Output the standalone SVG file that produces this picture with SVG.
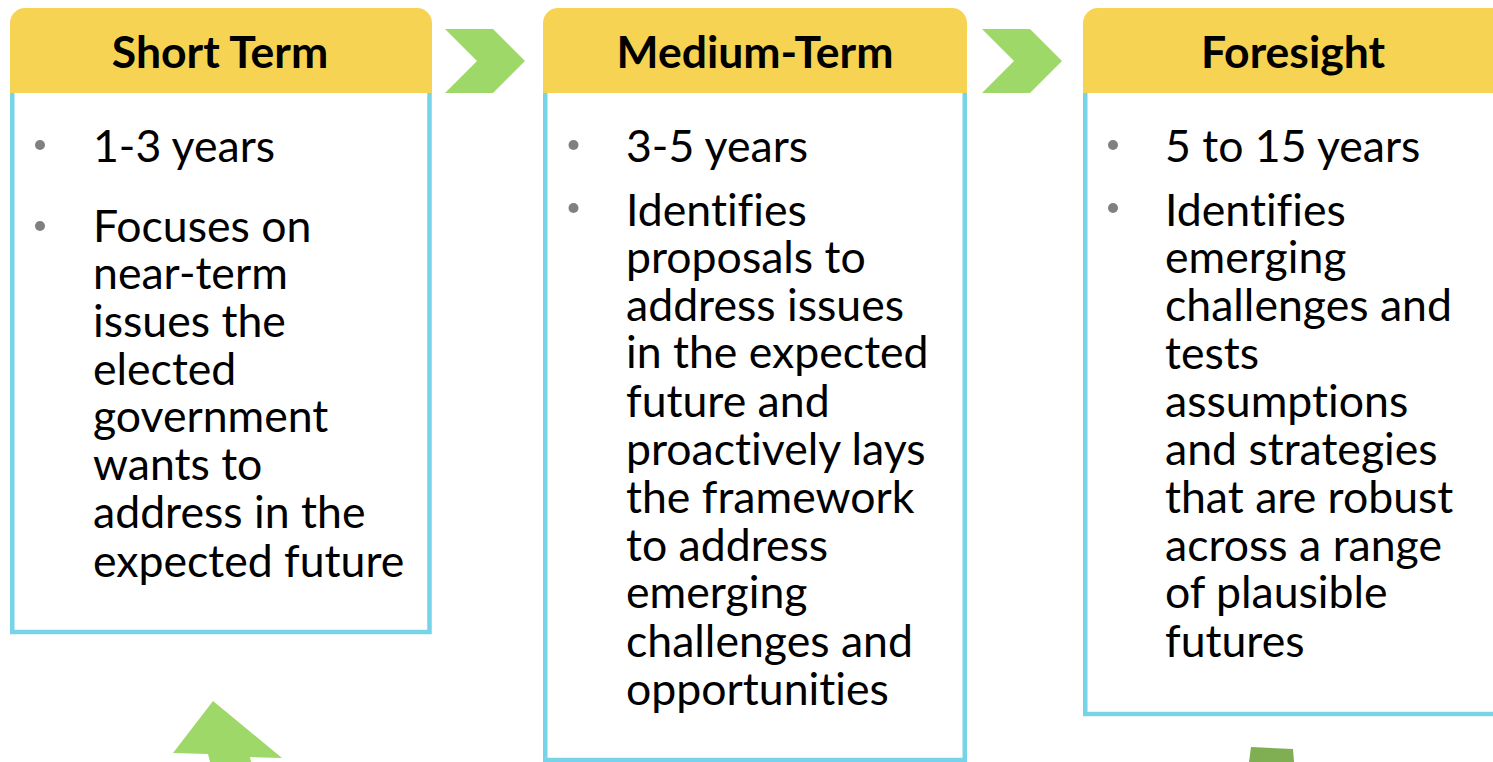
<svg xmlns="http://www.w3.org/2000/svg" width="1493" height="762" viewBox="0 0 1493 762">
<style>
.body{fill:#FFFFFF;stroke:#77D3E7;stroke-width:4.5}
.hdr{fill:#F6D353}
.title{font-family:Lato,"Open Sans","Liberation Sans",sans-serif;font-weight:bold;font-size:44.5px;fill:#000;text-anchor:middle;font-variant-ligatures:none}
.txt{font-family:Lato,"Open Sans","Liberation Sans",sans-serif;font-size:44.6px;fill:#000;font-variant-ligatures:none}
.dot{fill:#808080}
.chev{fill:#9ED869}
</style>
<g id="node-short-term">
<rect class="body" x="12.25" y="88" width="417.25" height="544"/>
<path class="hdr" d="M10,93 V23 A15,15 0 0 1 25,8 H417 A15,15 0 0 1 432,23 V93 Z"/>
<text class="title" x="220" y="68">Short Term</text>
<circle class="dot" cx="40" cy="145" r="5"/>
<text class="txt" x="93" y="162">1-3 years</text>
<circle class="dot" cx="40" cy="226" r="5"/>
<text class="txt" x="93" y="242">Focuses on</text>
<text class="txt" x="93" y="289">near-term</text>
<text class="txt" x="93" y="337">issues the</text>
<text class="txt" x="93" y="385">elected</text>
<text class="txt" x="93" y="432">government</text>
<text class="txt" x="93" y="480">wants to</text>
<text class="txt" x="93" y="528">address in the</text>
<text class="txt" x="93" y="577">expected future</text>
</g>
<g id="node-medium-term">
<rect class="body" x="545.25" y="88" width="419.5" height="672"/>
<path class="hdr" d="M543,93 V23 A15,15 0 0 1 558,8 H952 A15,15 0 0 1 967,23 V93 Z"/>
<text class="title" x="755" y="68">Medium-Term</text>
<circle class="dot" cx="573.5" cy="145" r="5"/>
<text class="txt" x="626" y="162">3-5 years</text>
<circle class="dot" cx="573.5" cy="208" r="5"/>
<text class="txt" x="626" y="226">Identifies</text>
<text class="txt" x="626" y="273">proposals to</text>
<text class="txt" x="626" y="321">address issues</text>
<text class="txt" x="626" y="368">in the expected</text>
<text class="txt" x="626" y="417">future and</text>
<text class="txt" x="626" y="465">proactively lays</text>
<text class="txt" x="626" y="513">the framework</text>
<text class="txt" x="626" y="561">to address</text>
<text class="txt" x="626" y="608">emerging</text>
<text class="txt" x="626" y="657">challenges and</text>
<text class="txt" x="626" y="705">opportunities</text>
</g>
<g id="node-foresight">
<rect class="body" x="1085.25" y="88" width="430" height="626"/>
<path class="hdr" d="M1083,93 V23 A15,15 0 0 1 1098,8 H1510 V93 Z"/>
<text class="title" x="1293" y="68">Foresight</text>
<circle class="dot" cx="1113" cy="145" r="5"/>
<text class="txt" x="1165" y="162">5 to 15 years</text>
<circle class="dot" cx="1113" cy="208" r="5"/>
<text class="txt" x="1165" y="226">Identifies</text>
<text class="txt" x="1165" y="273">emerging</text>
<text class="txt" x="1165" y="321">challenges and</text>
<text class="txt" x="1165" y="369">tests</text>
<text class="txt" x="1165" y="417">assumptions</text>
<text class="txt" x="1165" y="465">and strategies</text>
<text class="txt" x="1165" y="513">that are robust</text>
<text class="txt" x="1165" y="561">across a range</text>
<text class="txt" x="1165" y="608">of plausible</text>
<text class="txt" x="1165" y="657">futures</text>
</g>
<g id="connectors">
<polygon class="chev" points="445,29 493,29 525,61 493,93 445,93 477,61"/>
<polygon class="chev" points="982,29 1030,29 1062,61 1030,93 982,93 1014,61"/>
<polygon class="chev" points="213,701 282,758 250,757 251,762 210,762 208,754 173,753"/>
<polygon fill="#7FAE53" points="1251,747 1293,749 1294,762 1249,762"/>
</g>
</svg>
